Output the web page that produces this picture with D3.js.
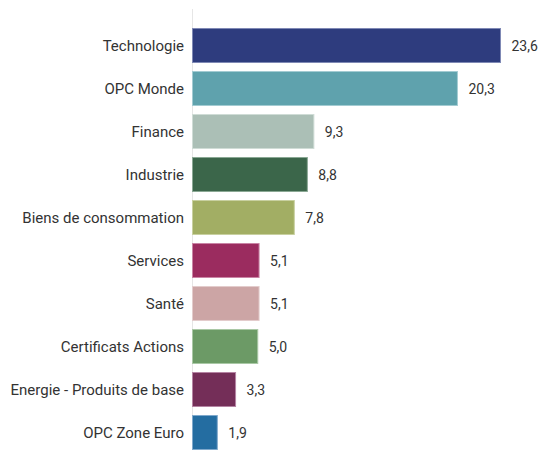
<!DOCTYPE html>
<html><head><meta charset="utf-8">
<script src="https://cdn.jsdelivr.net/npm/d3@7"></script>
<style>body{margin:0;background:#fff;} svg{display:block;}</style>
</head><body>
<svg id="c" width="541" height="450"></svg>
<script>
const categories = ["Technologie","OPC Monde","Finance","Industrie","Biens de consommation","Services","Santé","Certificats Actions","Energie - Produits de base","OPC Zone Euro"];
const values = [23.6,20.3,9.3,8.8,7.8,5.1,5.1,5.0,3.3,1.9];
const colors = ["#2e3c7e","#5fa2ad","#abbfb6","#3b664a","#a2ae64","#9b2c5f","#cca5a5","#6c9a66","#742e58","#246da1"];
const strokes = ["#7f89b5","#a3cbd2","#cfdcd6","#8aa894","#c8d0a0","#c985a5","#e3cccc","#a9c8a5","#b584a3","#7fa9cc"];

const svg = d3.select("#c");
const x = d3.scaleLinear().domain([0, 23.6]).range([192.5, 500.5]);
const y = d3.scaleBand().domain(categories).range([24, 454]).paddingInner(0.21).paddingOuter(0.105);
const fmt = v => d3.format(".1f")(v).replace(".", ",");
const font = "Roboto, sans-serif";

svg.append("line").attr("x1",192.5).attr("x2",192.5).attr("y1",9).attr("y2",450)
  .attr("stroke","#e6e6e6").attr("stroke-width",1);

const g = svg.append("g");
g.selectAll("rect").data(values).join("rect")
  .attr("x", x(0))
  .attr("y", (d,i)=>y(categories[i]))
  .attr("width", d=>x(d)-x(0))
  .attr("height", y.bandwidth())
  .attr("fill", (d,i)=>colors[i])
  .attr("stroke", (d,i)=>strokes[i]).attr("stroke-width",1);

g.selectAll("text.v").data(values).join("text").attr("class","v")
  .attr("x", d=>x(d)+11)
  .attr("y", (d,i)=>y(categories[i])+y.bandwidth()/2+1)
  .attr("dy","0.35em")
  .attr("font-family",font).attr("font-size",14).attr("fill","#333")
  .text(fmt);

const yAxis = d3.axisLeft(y).tickSize(0).tickPadding(8);
const ag = svg.append("g").attr("transform","translate(192,1)").call(yAxis);
ag.select(".domain").remove();
ag.selectAll("text").attr("font-family",font).attr("font-size",15).attr("fill","#333");
</script>
</body></html>
